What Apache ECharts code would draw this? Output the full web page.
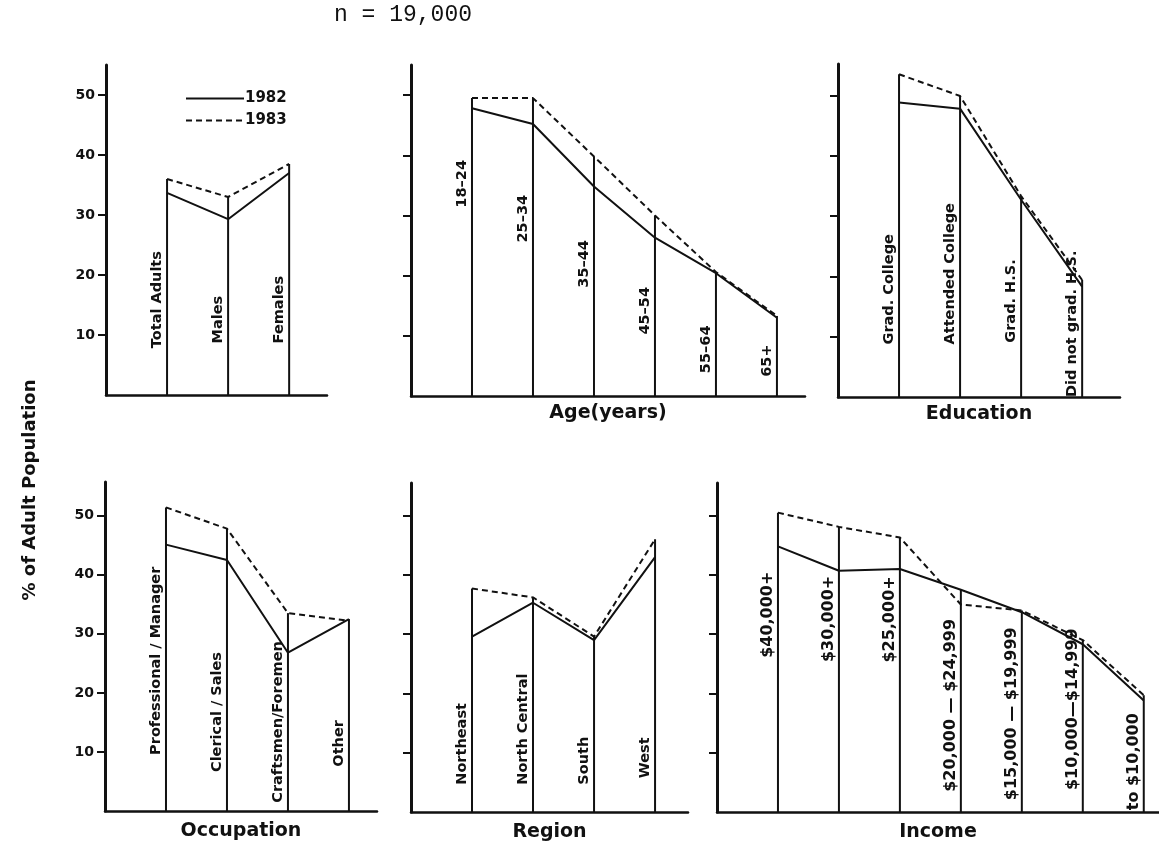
<!DOCTYPE html>
<html>
<head>
<meta charset="utf-8">
<title>Share of adult population, 1982 vs 1983</title>
<script src="https://cdn.jsdelivr.net/npm/echarts@6/dist/echarts.min.js"></script>
<style>
  html, body { margin: 0; padding: 0; background: #fff; }
  #chart { width: 1159px; height: 845px; }
</style>
</head>
<body>
<div id="chart"></div>
<script>
// ---- data: % of adult population, by group ----
const genderCats = ['Total Adults', 'Males', 'Females'];
const gender1982 = [33.7, 29.3, 37.0];
const gender1983 = [36.0, 33.0, 38.5];

const ageCats = ['18–24', '25–34', '35–44', '45–54', '55–64', '65+'];
const age1982 = [47.8, 45.2, 34.8, 26.3, 20.4, 13.0];
const age1983 = [49.5, 49.5, 39.8, 30.0, 20.6, 13.3];

const eduCats = ['Grad. College', 'Attended College', 'Grad. H.S.', 'Did not grad. H.S.'];
const edu1982 = [48.8, 47.8, 32.7, 18.3];
const edu1983 = [53.5, 49.9, 33.3, 19.4];

const occCats = ['Professional / Manager', 'Clerical / Sales', 'Craftsmen/Foremen', 'Other'];
const occ1982 = [45.1, 42.5, 26.8, 32.5];
const occ1983 = [51.4, 47.8, 33.5, 32.2];

const regionCats = ['Northeast', 'North Central', 'South', 'West'];
const region1982 = [29.6, 35.3, 29.0, 43.0];
const region1983 = [37.7, 36.2, 29.6, 46.0];

const incomeCats = ['$40,000+', '$30,000+', '$25,000+', '$20,000 — $24,999', '$15,000 — $19,999', '$10,000—$14,999', 'to $10,000'];
const income1982 = [44.8, 40.7, 41.0, 37.5, 33.7, 28.3, 18.8];
const income1983 = [50.5, 48.1, 46.3, 35.0, 34.0, 29.0, 19.7];

const yTickValues = [10, 20, 30, 40, 50];
const seriesNames = ['1982', '1983'];

// ---- layout & styling ----
const INK = '#111';
const FONT = '"DejaVu Sans", "Liberation Sans", sans-serif';

// lift: value (in % units) where each rotated category label starts
const panels = [
  { cats: genderCats, a: gender1982, b: gender1983, name: '',
    box: { left: 106, top: 65, width: 221, height: 330 }, xMax: 3.62, yMax: 55,
    showTickLabels: true, lift: [7.8, 8.6, 8.6], fs: 14.5, gap: 8 },
  { cats: ageCats, a: age1982, b: age1983, name: 'Age(years)',
    box: { left: 411, top: 65, width: 394, height: 331 }, xMax: 6.46, yMax: 55,
    showTickLabels: false, lift: [31.3, 25.5, 18.0, 10.2, 3.8, 3.2], fs: 14.5, gap: 8 },
  { cats: eduCats, a: edu1982, b: edu1983, name: 'Education',
    box: { left: 838, top: 64, width: 282, height: 333 }, xMax: 4.62, yMax: 55.2,
    showTickLabels: false, lift: [8.7, 8.7, 9.0, 0.0], fs: 14.5, gap: 8 },
  { cats: occCats, a: occ1982, b: occ1983, name: 'Occupation',
    box: { left: 105, top: 482, width: 272, height: 329 }, xMax: 4.46, yMax: 55.7,
    showTickLabels: true, lift: [9.5, 6.6, 1.4, 7.5], fs: 14.5, gap: 11 },
  { cats: regionCats, a: region1982, b: region1983, name: 'Region',
    box: { left: 411, top: 483, width: 277, height: 329 }, xMax: 4.54, yMax: 55.5,
    showTickLabels: false, lift: [4.6, 4.6, 4.6, 5.7], fs: 14.5, gap: 11 },
  { cats: incomeCats, a: income1982, b: income1983, name: 'Income',
    box: { left: 717, top: 483, width: 442, height: 329 }, xMax: 7.25, yMax: 55.5,
    showTickLabels: false, lift: [26.0, 25.3, 25.2, 3.4, 2.0, 3.7, 0.3], fs: 16, gap: 11 }
];

const grid = [], xAxis = [], yAxis = [], series = [];

panels.forEach((p, i) => {
  grid.push(Object.assign({ containLabel: false }, p.box));

  xAxis.push({
    gridIndex: i, type: 'value', min: 0, max: p.xMax,
    name: p.name, nameLocation: 'middle', nameGap: p.gap,
    nameTextStyle: { color: INK, fontFamily: FONT, fontWeight: 'bold', fontSize: 19 },
    axisLine: { show: true, onZero: false, lineStyle: { color: INK, width: 2.5 } },
    axisTick: { show: false }, axisLabel: { show: false }, splitLine: { show: false }
  });

  yAxis.push({
    gridIndex: i, type: 'value', min: 0, max: p.yMax, interval: 10,
    axisLine: { show: true, onZero: false, lineStyle: { color: INK, width: 3 } },
    axisTick: { show: true, length: 8, customValues: yTickValues, lineStyle: { color: INK, width: 2 } },
    axisLabel: { show: p.showTickLabels, customValues: yTickValues, margin: 11,
                 color: INK, fontFamily: FONT, fontWeight: 'bold', fontSize: 14 },
    splitLine: { show: false }
  });

  // drop lines from each category's higher value to the baseline, with rotated labels
  const cats = p.cats, fs = p.fs;
  series.push({
    type: 'custom', xAxisIndex: i, yAxisIndex: i, silent: true, z: 2,
    data: cats.map((c, k) => [k + 1, Math.max(p.a[k], p.b[k]), p.lift[k]]),
    encode: { x: 0, y: 1 },
    renderItem: function (params, api) {
      const x = api.value(0);
      const base = api.coord([x, 0]);
      const top = api.coord([x, api.value(1)]);
      const anchor = api.coord([x, api.value(2)]);
      return {
        type: 'group',
        children: [
          { type: 'line',
            shape: { x1: base[0], y1: base[1], x2: top[0], y2: top[1] },
            style: { stroke: INK, lineWidth: 2 } },
          { type: 'text', x: anchor[0] - 2, y: anchor[1], rotation: Math.PI / 2,
            style: { text: cats[params.dataIndex], fill: INK,
                     font: 'bold ' + fs + 'px ' + FONT,
                     align: 'left', verticalAlign: 'bottom' } }
        ]
      };
    }
  });

  [p.a, p.b].forEach((vals, s) => {
    series.push({
      name: seriesNames[s], type: 'line', xAxisIndex: i, yAxisIndex: i, z: 3,
      data: vals.map((v, k) => [k + 1, v]),
      symbol: 'none', silent: true,
      itemStyle: { color: INK },
      lineStyle: { color: INK, width: 2, type: s === 0 ? 'solid' : [6, 4] }
    });
  });
});

const chart = echarts.init(document.getElementById('chart'), null, { renderer: 'canvas' });
chart.setOption({
  backgroundColor: '#fff',
  animation: false,
  grid, xAxis, yAxis, series,
  legend: {
    data: seriesNames, orient: 'vertical', left: 185, top: 91, padding: 0,
    itemWidth: 58, itemHeight: 14, itemGap: 7, selectedMode: false,
    itemStyle: { opacity: 0 },
    textStyle: { color: INK, fontFamily: FONT, fontWeight: 'bold', fontSize: 15, padding: [0, 0, 0, -4] }
  },
  graphic: [
    { type: 'text', x: 403, y: 15,
      style: { text: 'n = 19,000', fill: INK, font: '23px "Liberation Mono", monospace',
               align: 'center', verticalAlign: 'middle' } },
    { type: 'text', x: 30, y: 490, rotation: Math.PI / 2,
      style: { text: '% of Adult Population', fill: INK, font: 'bold 18px ' + FONT,
               align: 'center', verticalAlign: 'middle' } }
  ]
});
</script>
</body>
</html>
